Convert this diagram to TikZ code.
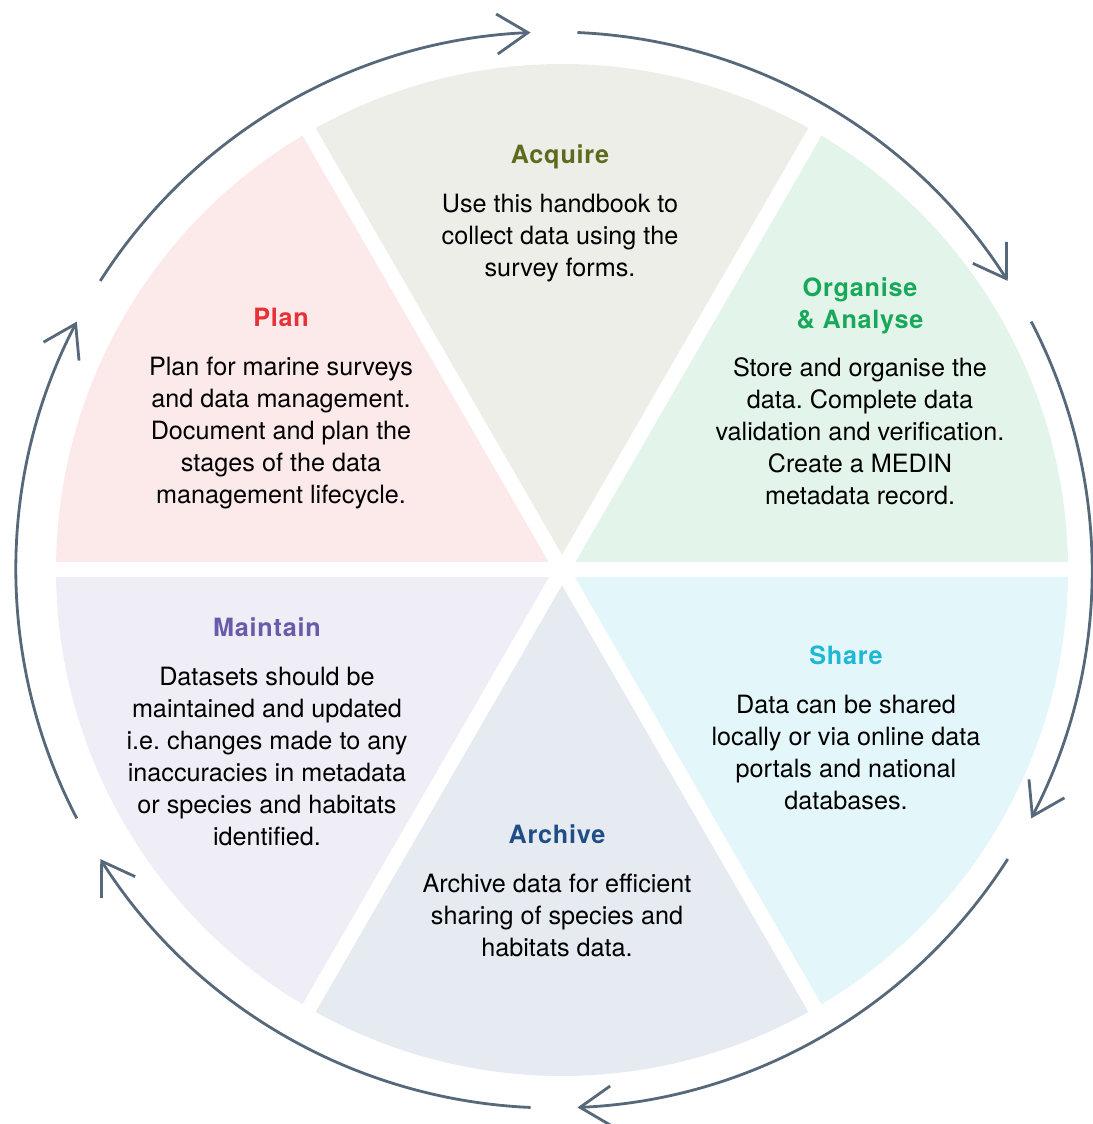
\documentclass[tikz,border=0pt]{standalone}
\usepackage{fontspec}
\setmainfont{TeX Gyre Heros}
\newfontfamily\headfont{TeX Gyre Heros}[LetterSpace=3.0]
\usepackage{tikz}
\usetikzlibrary{arrows.meta}
\frenchspacing
\definecolor{plancol}{HTML}{E63136}
\definecolor{planbg}{HTML}{FCE9EA}
\definecolor{acqcol}{HTML}{5E6B1E}
\definecolor{acqbg}{HTML}{EEEEE9}
\definecolor{orgcol}{HTML}{19A85A}
\definecolor{orgbg}{HTML}{E3F5EB}
\definecolor{sharecol}{HTML}{1DB8D4}
\definecolor{sharebg}{HTML}{E3F6F9}
\definecolor{archcol}{HTML}{1E4E85}
\definecolor{archbg}{HTML}{E6EAF1}
\definecolor{maintcol}{HTML}{6A5AAA}
\definecolor{maintbg}{HTML}{EFEEF6}
\definecolor{cyclegrey}{HTML}{56687A}
\tikzstyle{stagetext}=[align=center,inner sep=0pt,anchor=north,font=\fontsize{12.6}{16}\selectfont]
\tikzstyle{cyclearrow}=[draw=cyclegrey,line width=1.4pt,-{Straight Barb[length=15.5pt,width=20pt]}]
\newcommand{\stagehead}[2]{{\headfont\bfseries\color{#1}#2}}

\begin{document}
\begin{tikzpicture}[x=0.5pt,y=0.5pt]
	\useasboundingbox (0,0) rectangle (1092,1124);
	\coordinate (c) at (562,554);
	\coordinate (oc) at (554,554);
	% sectors
	\foreach \a/\col in {0/orgbg,60/acqbg,120/planbg,180/maintbg,240/archbg,300/sharebg}
		\fill[\col] (c) -- ++(\a:506) arc[start angle=\a,end angle=\a+60,radius=506] -- cycle;
	\foreach \a in {0,60,...,300}
		\draw[white,line width=7.5pt] (c) -- ++(\a:520);
	% outer cycle
	\foreach \a in {120,60,0,-60,-120,-180}
		\draw[cyclearrow] (oc) ++(\a+27.5:538) arc[start angle=\a+27.5,end angle=\a-27.5,radius=538];

	\node (acq) [stagetext] at (560,980) {\stagehead{acqcol}{Acquire}\\[8.5pt]
		Use this handbook to\\collect data using the\\survey forms.};
	\node (plan) [stagetext] at (281,816) {\stagehead{plancol}{Plan}\\[8.5pt]
		Plan for marine surveys\\and data management.\\Document and plan the\\stages of the data\\management lifecycle.};
	\node (org) [stagetext] at (860,847) {\stagehead{orgcol}{Organise}\\\stagehead{orgcol}{\& Analyse}\\[8pt]
		Store and organise the\\data. Complete data\\validation and verification.\\Create a MEDIN\\metadata record.};
	\node (maint) [stagetext] at (267,507) {\stagehead{maintcol}{Maintain}\\[8.5pt]
		Datasets should be\\maintained and updated\\i.e. changes made to any\\inaccuracies in metadata\\or species and habitats\\identified.};
	\node (share) [stagetext] at (846,479) {\stagehead{sharecol}{Share}\\[8.5pt]
		Data can be shared\\locally or via online data\\portals and national\\databases.};
	\node (archv) [stagetext] at (557,300) {\stagehead{archcol}{Archive}\\[8.5pt]
		Archive data for efficient\\sharing of species and\\habitats data.};
\end{tikzpicture}
\end{document}
